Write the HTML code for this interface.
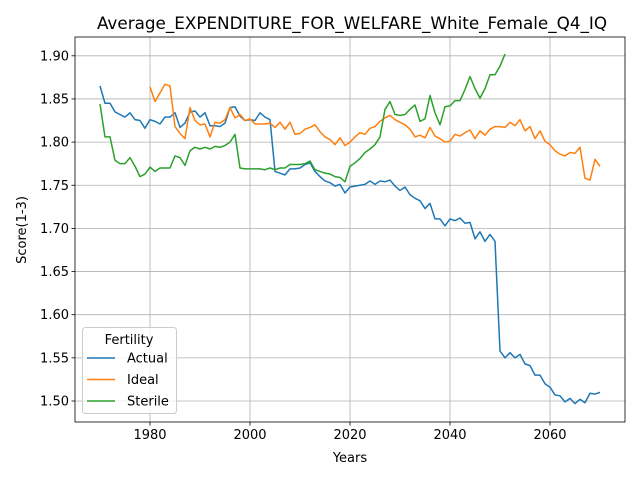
<!DOCTYPE html>
<html><head><meta charset="utf-8"><style>
body{margin:0;background:#fff}
svg text{font-family:"DejaVu Sans","Liberation Sans",sans-serif;fill:#000}
</style></head><body>
<svg id="c" width="640" height="480" xmlns="http://www.w3.org/2000/svg">
<rect x="0" y="0" width="640" height="480" fill="#fff"/>
<text x="352" y="29" font-size="16.8" text-anchor="middle">Average_EXPENDITURE_FOR_WELFARE_White_Female_Q4_IQ</text>
<g id="grid"></g><g id="lines"></g><g id="axes"></g>
<text x="350" y="462" font-size="13" text-anchor="middle">Years</text>
<text x="26" y="230" font-size="13" text-anchor="middle" transform="rotate(-90 26 230)">Score(1-3)</text>
<g id="legend">
<rect x="82.5" y="327.5" width="94" height="86" rx="3" fill="#fff" fill-opacity="0.8" stroke="#ccc"/>
<text x="129" y="344" font-size="13" text-anchor="middle">Fertility</text>
</g>
</svg>
<script>
const xTicks=[1980,2000,2020,2040,2060];
const yTicks=[1.50,1.55,1.60,1.65,1.70,1.75,1.80,1.85,1.90];
const seriesNames=["Actual","Ideal","Sterile"];
const actualStart=1970;
const actualVals=[1.865,1.845,1.845,1.835,1.832,1.829,1.834,1.826,1.825,1.816,1.826,1.824,1.821,1.829,1.829,1.834,1.817,1.822,1.835,1.836,1.829,1.834,1.819,1.819,1.818,1.822,1.840,1.841,1.830,1.825,1.826,1.825,1.834,1.829,1.826,1.766,1.764,1.762,1.769,1.769,1.770,1.774,1.776,1.766,1.760,1.755,1.753,1.749,1.751,1.741,1.748,1.749,1.750,1.751,1.755,1.751,1.755,1.754,1.756,1.749,1.744,1.748,1.739,1.735,1.732,1.723,1.729,1.711,1.711,1.703,1.711,1.709,1.712,1.706,1.707,1.688,1.696,1.685,1.693,1.685,1.558,1.550,1.556,1.550,1.554,1.543,1.541,1.530,1.530,1.520,1.516,1.507,1.506,1.499,1.503,1.497,1.502,1.498,1.509,1.508,1.510];
const idealStart=1980;
const idealVals=[1.864,1.847,1.857,1.867,1.865,1.818,1.810,1.804,1.840,1.825,1.820,1.821,1.806,1.823,1.822,1.826,1.840,1.828,1.832,1.825,1.827,1.821,1.821,1.821,1.822,1.817,1.823,1.815,1.823,1.809,1.810,1.815,1.817,1.820,1.812,1.806,1.803,1.797,1.805,1.796,1.800,1.806,1.811,1.809,1.816,1.818,1.824,1.828,1.831,1.826,1.823,1.820,1.815,1.806,1.808,1.805,1.817,1.807,1.804,1.800,1.801,1.809,1.807,1.811,1.814,1.804,1.813,1.808,1.815,1.818,1.818,1.817,1.823,1.819,1.826,1.813,1.818,1.804,1.813,1.801,1.797,1.790,1.786,1.784,1.788,1.787,1.794,1.758,1.756,1.780,1.772];
const sterileStart=1970;
const sterileVals=[1.844,1.806,1.806,1.779,1.775,1.775,1.782,1.772,1.760,1.763,1.771,1.766,1.770,1.770,1.770,1.784,1.782,1.773,1.790,1.794,1.792,1.794,1.792,1.795,1.794,1.796,1.800,1.809,1.770,1.769,1.769,1.769,1.769,1.768,1.770,1.768,1.770,1.770,1.774,1.774,1.774,1.775,1.778,1.768,1.766,1.764,1.763,1.760,1.759,1.754,1.772,1.776,1.781,1.788,1.792,1.797,1.806,1.838,1.847,1.832,1.831,1.832,1.838,1.843,1.824,1.827,1.854,1.834,1.820,1.841,1.842,1.848,1.848,1.861,1.876,1.862,1.851,1.862,1.878,1.878,1.888,1.902];
const colors=["#1f77b4","#ff7f0e","#2ca02c"];
const L=75,R=625,T=37,B=422;
const xs=y=>100+(y-1970)*5.0;
const ys=v=>401-(v-1.5)*863;
const NS="http://www.w3.org/2000/svg";
function mk(tag,attrs,parent){const e=document.createElementNS(NS,tag);for(const k in attrs)e.setAttribute(k,attrs[k]);parent.appendChild(e);return e;}
const grid=document.getElementById('grid'),axes=document.getElementById('axes'),lines=document.getElementById('lines');
xTicks.forEach(t=>{const x=xs(t);
 const g=mk('line',{x1:x,x2:x,y1:T,y2:B,stroke:'#b0b0b0','stroke-width':0.8},grid);
 
 
 mk('line',{x1:x,x2:x,y1:B,y2:B+3.5,stroke:'#000','stroke-width':0.8},axes);
 const tx=mk('text',{x:x,y:B+17,'font-size':13,'text-anchor':'middle'},axes);tx.textContent=t;
 
 
});
yTicks.forEach(t=>{const y=ys(t);
 const g=mk('line',{x1:L,x2:R,y1:y,y2:y,stroke:'#b0b0b0','stroke-width':0.8},grid);
 
 
 mk('line',{x1:L-3.5,x2:L,y1:y,y2:y,stroke:'#000','stroke-width':0.8},axes);
 const tx=mk('text',{x:L-6,y:y+4.5,'font-size':13,'text-anchor':'end'},axes);tx.textContent=t.toFixed(2);
 
 
});
mk('rect',{x:L,y:T,width:R-L,height:B-T,fill:'none',stroke:'#000','stroke-width':0.8},axes);
[[actualStart,actualVals],[idealStart,idealVals],[sterileStart,sterileVals]].forEach((s,i)=>{
 const pts=s[1].map((v,j)=>xs(s[0]+j).toFixed(2)+','+ys(v).toFixed(2)).join(' ');
 const p=mk('polyline',{points:pts,fill:'none',stroke:colors[i],'stroke-width':1.5,'stroke-linejoin':'round'},lines);
 
 
});
const lg=document.getElementById('legend');
seriesNames.forEach((n,i)=>{const y=358+i*21.5;
 mk('line',{x1:87,x2:115,y1:y,y2:y,stroke:colors[i],'stroke-width':1.5},lg);
 const tx=mk('text',{x:127,y:y+4.5,'font-size':13},lg);tx.textContent=n;
 
 
});
</script>
</body></html>
